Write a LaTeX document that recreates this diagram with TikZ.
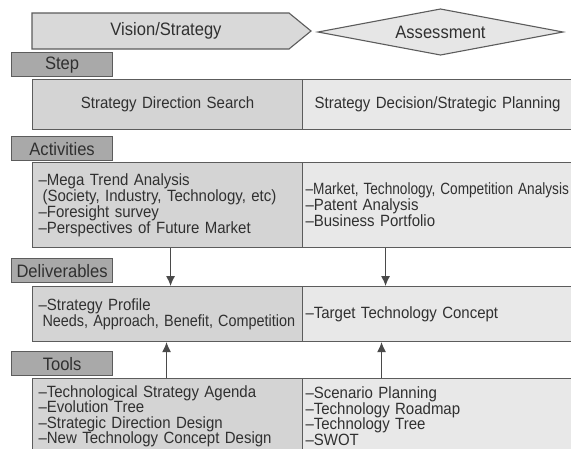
\documentclass[tikz,border=0pt]{standalone}
\usepackage{fontspec}
\setmainfont[FakeStretch=0.92]{Liberation Sans}
\usetikzlibrary{arrows.meta,calc}
\definecolor{bordc}{HTML}{5C5C5C}
\definecolor{leftc}{HTML}{D4D4D4}
\definecolor{rightc}{HTML}{E8E8E8}
\definecolor{labc}{HTML}{A9A9A9}
\definecolor{txtc}{HTML}{303030}
\definecolor{pentc}{HTML}{D9D9D9}
\definecolor{diac}{HTML}{E6E6E6}
\tikzset{
  bodyfont/.style={font=\fontsize{16.3}{16}\selectfont},
  toolfont/.style={font=\fontsize{16.3}{15.5}\selectfont},
  bigfont/.style={font=\fontsize{18}{20}\selectfont},
  stepfont/.style={font=\fontsize{16.3}{18}\selectfont},
  cellbase/.style={draw=bordc, line width=1.1pt, text=txtc, anchor=north west, inner ysep=0pt},
  lcell/.style={cellbase, fill=leftc, minimum width=270pt, text width=258pt, inner xsep=6pt, align=left, bodyfont},
  rcell/.style={cellbase, fill=rightc, minimum width=270pt, text width=264pt, inner xsep=3pt, align=left, bodyfont},
  lstep/.style={cellbase, fill=leftc, minimum width=270pt, text width=262pt, inner xsep=4pt, align=center, stepfont},
  rstep/.style={cellbase, fill=rightc, minimum width=270pt, text width=262pt, inner xsep=4pt, align=center, stepfont},
  tag/.style={draw=bordc, line width=1.2pt, fill=labc, text=txtc, anchor=north west, minimum width=101pt, minimum height=24pt, inner sep=0pt, bigfont},
  headshape/.style={draw=bordc, line width=1.1pt},
  arr/.style={draw=bordc!80!black, line width=1.1pt, -{Latex[length=10pt,width=9pt]}}
}
\begin{document}
\begin{tikzpicture}[x=1pt,y=-1pt]
\useasboundingbox (0,0) rectangle (571,448);
\clip (0,0) rectangle (571,448);
\fill[white] (0,0) rectangle (571,448);
% header shapes
\draw[headshape, fill=pentc] (32,13) -- (289,13) -- (311,31) -- (289,49) -- (32,49) -- cycle;
\node[bigfont, text=txtc] (vision) at (166,31) {Vision/Strategy};
\draw[headshape, fill=diac] (318,32) -- (440.5,9) -- (563,32) -- (440.5,55) -- cycle;
\node[bigfont, text=txtc] (assess) at (440.5,32) {Assessment};
% labels
\node[tag] (tstep) at (11,52) {Step};
\node[tag] (tact) at (11,136) {Activities};
\node[tag] (tdel) at (11,258) {Deliverables};
\node[tag] (ttool) at (11,351) {Tools};
% step row
\node[lstep, minimum height=50pt] (stepL) at (32,79) {Strategy Direction Search};
\node[rstep, minimum height=50pt] (stepR) at (302,79) {Strategy Decision/Strategic Planning};
% activities row
\node[lcell, minimum height=85pt] (actL) at (32,162) {–Mega Trend Analysis\\\hspace*{4pt}(Society, Industry, Technology, etc)\\–Foresight survey\\–Perspectives of Future Market};
\node[rcell, minimum height=85pt] (actR) at (302,162) {\scalebox{0.91}[1]{–Market, Technology, Competition Analysis}\\–Patent Analysis\\–Business Portfolio};
% deliverables row
\node[lcell, minimum height=55pt] (delL) at (32,286) {–Strategy Profile\\\hspace*{4pt}\scalebox{0.96}[1]{Needs, Approach, Benefit, Competition}};
\node[rcell, minimum height=55pt] (delR) at (302,286) {–Target Technology Concept};
% tools row
\node[lcell, toolfont, minimum height=75pt] (toolL) at (32,378) {–Technological Strategy Agenda\\–Evolution Tree\\–Strategic Direction Design\\–New Technology Concept Design};
\node[rcell, toolfont, minimum height=75pt] (toolR) at (302,378) {–Scenario Planning\\–Technology Roadmap\\–Technology Tree\\–SWOT};
% arrows
\draw[arr] ([xshift=3pt]actL.south) -- ([xshift=3pt]delL.north);
\draw[arr] ([xshift=-52pt]actR.south) -- ([xshift=-52pt]delR.north);
\draw[arr] ([xshift=-1pt]toolL.north) -- ([xshift=-1pt]delL.south);
\draw[arr] ([xshift=-56pt]toolR.north) -- ([xshift=-56pt]delR.south);
\end{tikzpicture}
\end{document}
